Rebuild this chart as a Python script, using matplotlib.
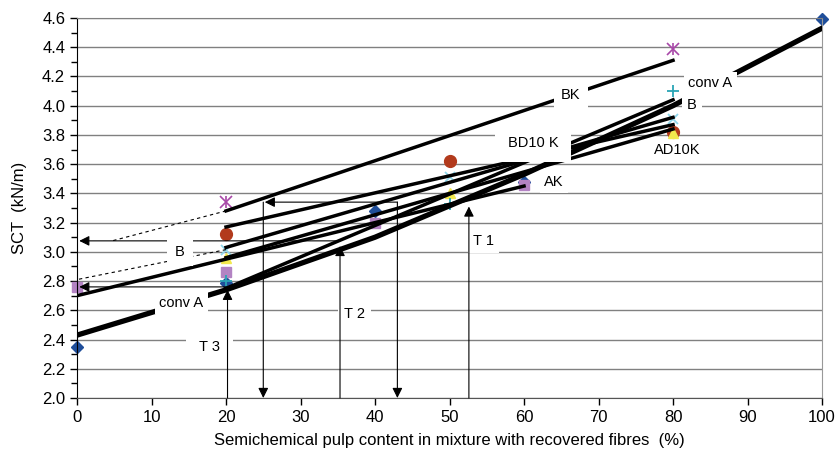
import numpy as np
import matplotlib
matplotlib.use("Agg")
import matplotlib.pyplot as plt
from matplotlib.ticker import MultipleLocator, FormatStrFormatter

plt.rcParams['font.family'] = ['Liberation Sans', 'DejaVu Sans']

# measured SCT values (kN/m) per pulp mixture series
conv_a_x = [0, 20, 40, 60, 100]
conv_a_y = [2.35, 2.79, 3.28, 3.48, 4.59]
ak_x = [0, 20, 40, 60]
ak_y = [2.76, 2.86, 3.20, 3.46]
ad10k_x = [20, 50, 80]
ad10k_y = [3.12, 3.62, 3.82]
bk_x = [20, 80]
bk_y = [3.34, 4.39]
b_x = [20, 50, 80]
b_y = [2.80, 3.33, 4.10]
bd10k_x = [20, 50, 80]
bd10k_y = [3.01, 3.51, 3.91]
tri_x = [20, 50, 80]
tri_y = [2.96, 3.40, 3.81]

# trend lines
conv_a_fit_x = [0, 20, 40, 60, 80, 100]
conv_a_fit_y = [2.43, 2.74, 3.10, 3.53, 4.00, 4.53]
trend_lines = [
    ([20, 80], [3.28, 4.31]),  # BK
    ([20, 80], [3.17, 3.87]),  # AD10K
    ([20, 80], [3.03, 3.92]),  # BD10 K
    ([20, 80], [2.96, 3.84]),
    ([20, 80], [2.75, 4.04]),  # B
    ([0, 60], [2.70, 3.45]),   # AK
]
dashed_lines = [
    ([20, 4.7], [3.28, 3.075]),
    ([20, 0], [3.015, 2.81]),
]

# threshold arrows: (start, end, on_top)
arrows = [
    ((20.2, 2.0), (20.2, 2.74), True),
    ((20.2, 2.76), (0.3, 2.76), False),
    ((25.0, 3.34), (25.0, 2.0), True),
    ((43.0, 3.34), (25.2, 3.34), False),
    ((43.0, 3.34), (43.0, 2.0), True),
    ((35.3, 2.0), (35.3, 3.04), True),
    ((35.3, 3.075), (0.3, 3.075), False),
    ((52.6, 2.0), (52.6, 3.31), True),
]

# text labels: text, x, y, box padding (pt)
labels = [
    ("BK", 66.3, 4.07, 5),
    ("conv A", 85.0, 4.155, 3),
    ("B", 82.5, 4.005, 3.6),
    ("BD10 K", 61.2, 3.748, 9),
    ("AK", 64.0, 3.478, 3.2),
    ("AD10K", 80.5, 3.697, 2),
    ("B", 13.8, 3.002, 5.7),
    ("conv A", 14.0, 2.65, 3.2),
    ("T 3", 17.8, 2.35, 9.5),
    ("T 2", 37.2, 2.578, 4.3),
    ("T 1", 54.5, 3.074, 3.6),
]
label_size = 10.5

fig = plt.figure(figsize=(8.4, 4.67), dpi=100)
ax = fig.add_axes([0.0917, 0.1478, 0.8869, 0.8137])

ax.plot(conv_a_x, conv_a_y, 'D', color='#1F4E9A', ms=6, zorder=2, clip_on=False)
ax.plot(ak_x, ak_y, 's', color='#B383C3', ms=7.5, zorder=2, clip_on=False)
ax.plot(ad10k_x, ad10k_y, 'o', color='#B23A1C', ms=8.5, zorder=2)
ax.plot(tri_x, tri_y, '^', color='#F2E94E', ms=7, zorder=2.1)
ax.plot(bk_x, bk_y, 'x', color='#A848A8', ms=8, mew=1.2, zorder=2)
ax.plot(bk_x, bk_y, '|', color='#A848A8', ms=8, mew=1.2, zorder=2)
ax.plot(b_x, b_y, '+', color='#2AA5B5', ms=9, mew=1.3, zorder=2.2)
ax.plot(bd10k_x, bd10k_y, 'x', color='#8ED6EA', ms=7, mew=1.3, zorder=2.1)

ax.plot(conv_a_fit_x, conv_a_fit_y, color='black', lw=3.8, zorder=3)
for xs, ys in trend_lines:
    ax.plot(xs, ys, color='black', lw=2.5, zorder=3)
for xs, ys in dashed_lines:
    ax.plot(xs, ys, color='black', lw=0.8, ls=(0, (3, 3)), zorder=3)

for start, end, on_top in arrows:
    ax.annotate('', xy=end, xytext=start,
                arrowprops=dict(arrowstyle='-|>,head_length=0.6,head_width=0.3',
                                color='black', lw=0.8, shrinkA=0, shrinkB=0,
                                mutation_scale=10),
                zorder=5 if on_top else 3.5)

for txt, x, y, pad in labels:
    ax.text(x, y, txt, ha='center', va='center', fontsize=label_size, zorder=4,
            bbox=dict(boxstyle=f'square,pad={pad / label_size:.3f}',
                      facecolor='white', edgecolor='none'))

ax.set_xlim(0, 100)
ax.set_ylim(2.0, 4.6)
ax.xaxis.set_major_locator(MultipleLocator(10))
ax.yaxis.set_major_locator(MultipleLocator(0.2))
ax.yaxis.set_minor_locator(MultipleLocator(0.1))
ax.yaxis.set_major_formatter(FormatStrFormatter('%.1f'))
ax.grid(axis='y', which='major', color='#808080', lw=1.0, zorder=0)
ax.set_axisbelow(True)

ax.spines['left'].set_color('black')
ax.spines['bottom'].set_color('#555555')
ax.spines['right'].set_color('#999999')
ax.spines['top'].set_color('#808080')
ax.tick_params(axis='both', which='major', direction='out', length=5, width=1,
               labelsize=12, colors='black')
ax.tick_params(axis='y', which='minor', direction='out', length=4, width=1)

ax.set_xlabel("Semichemical pulp content in mixture with recovered fibres  (%)",
              fontsize=12, labelpad=6)
ax.set_ylabel("SCT  (kN/m)", fontsize=12, labelpad=11)

fig.savefig("out.png", dpi=100)
